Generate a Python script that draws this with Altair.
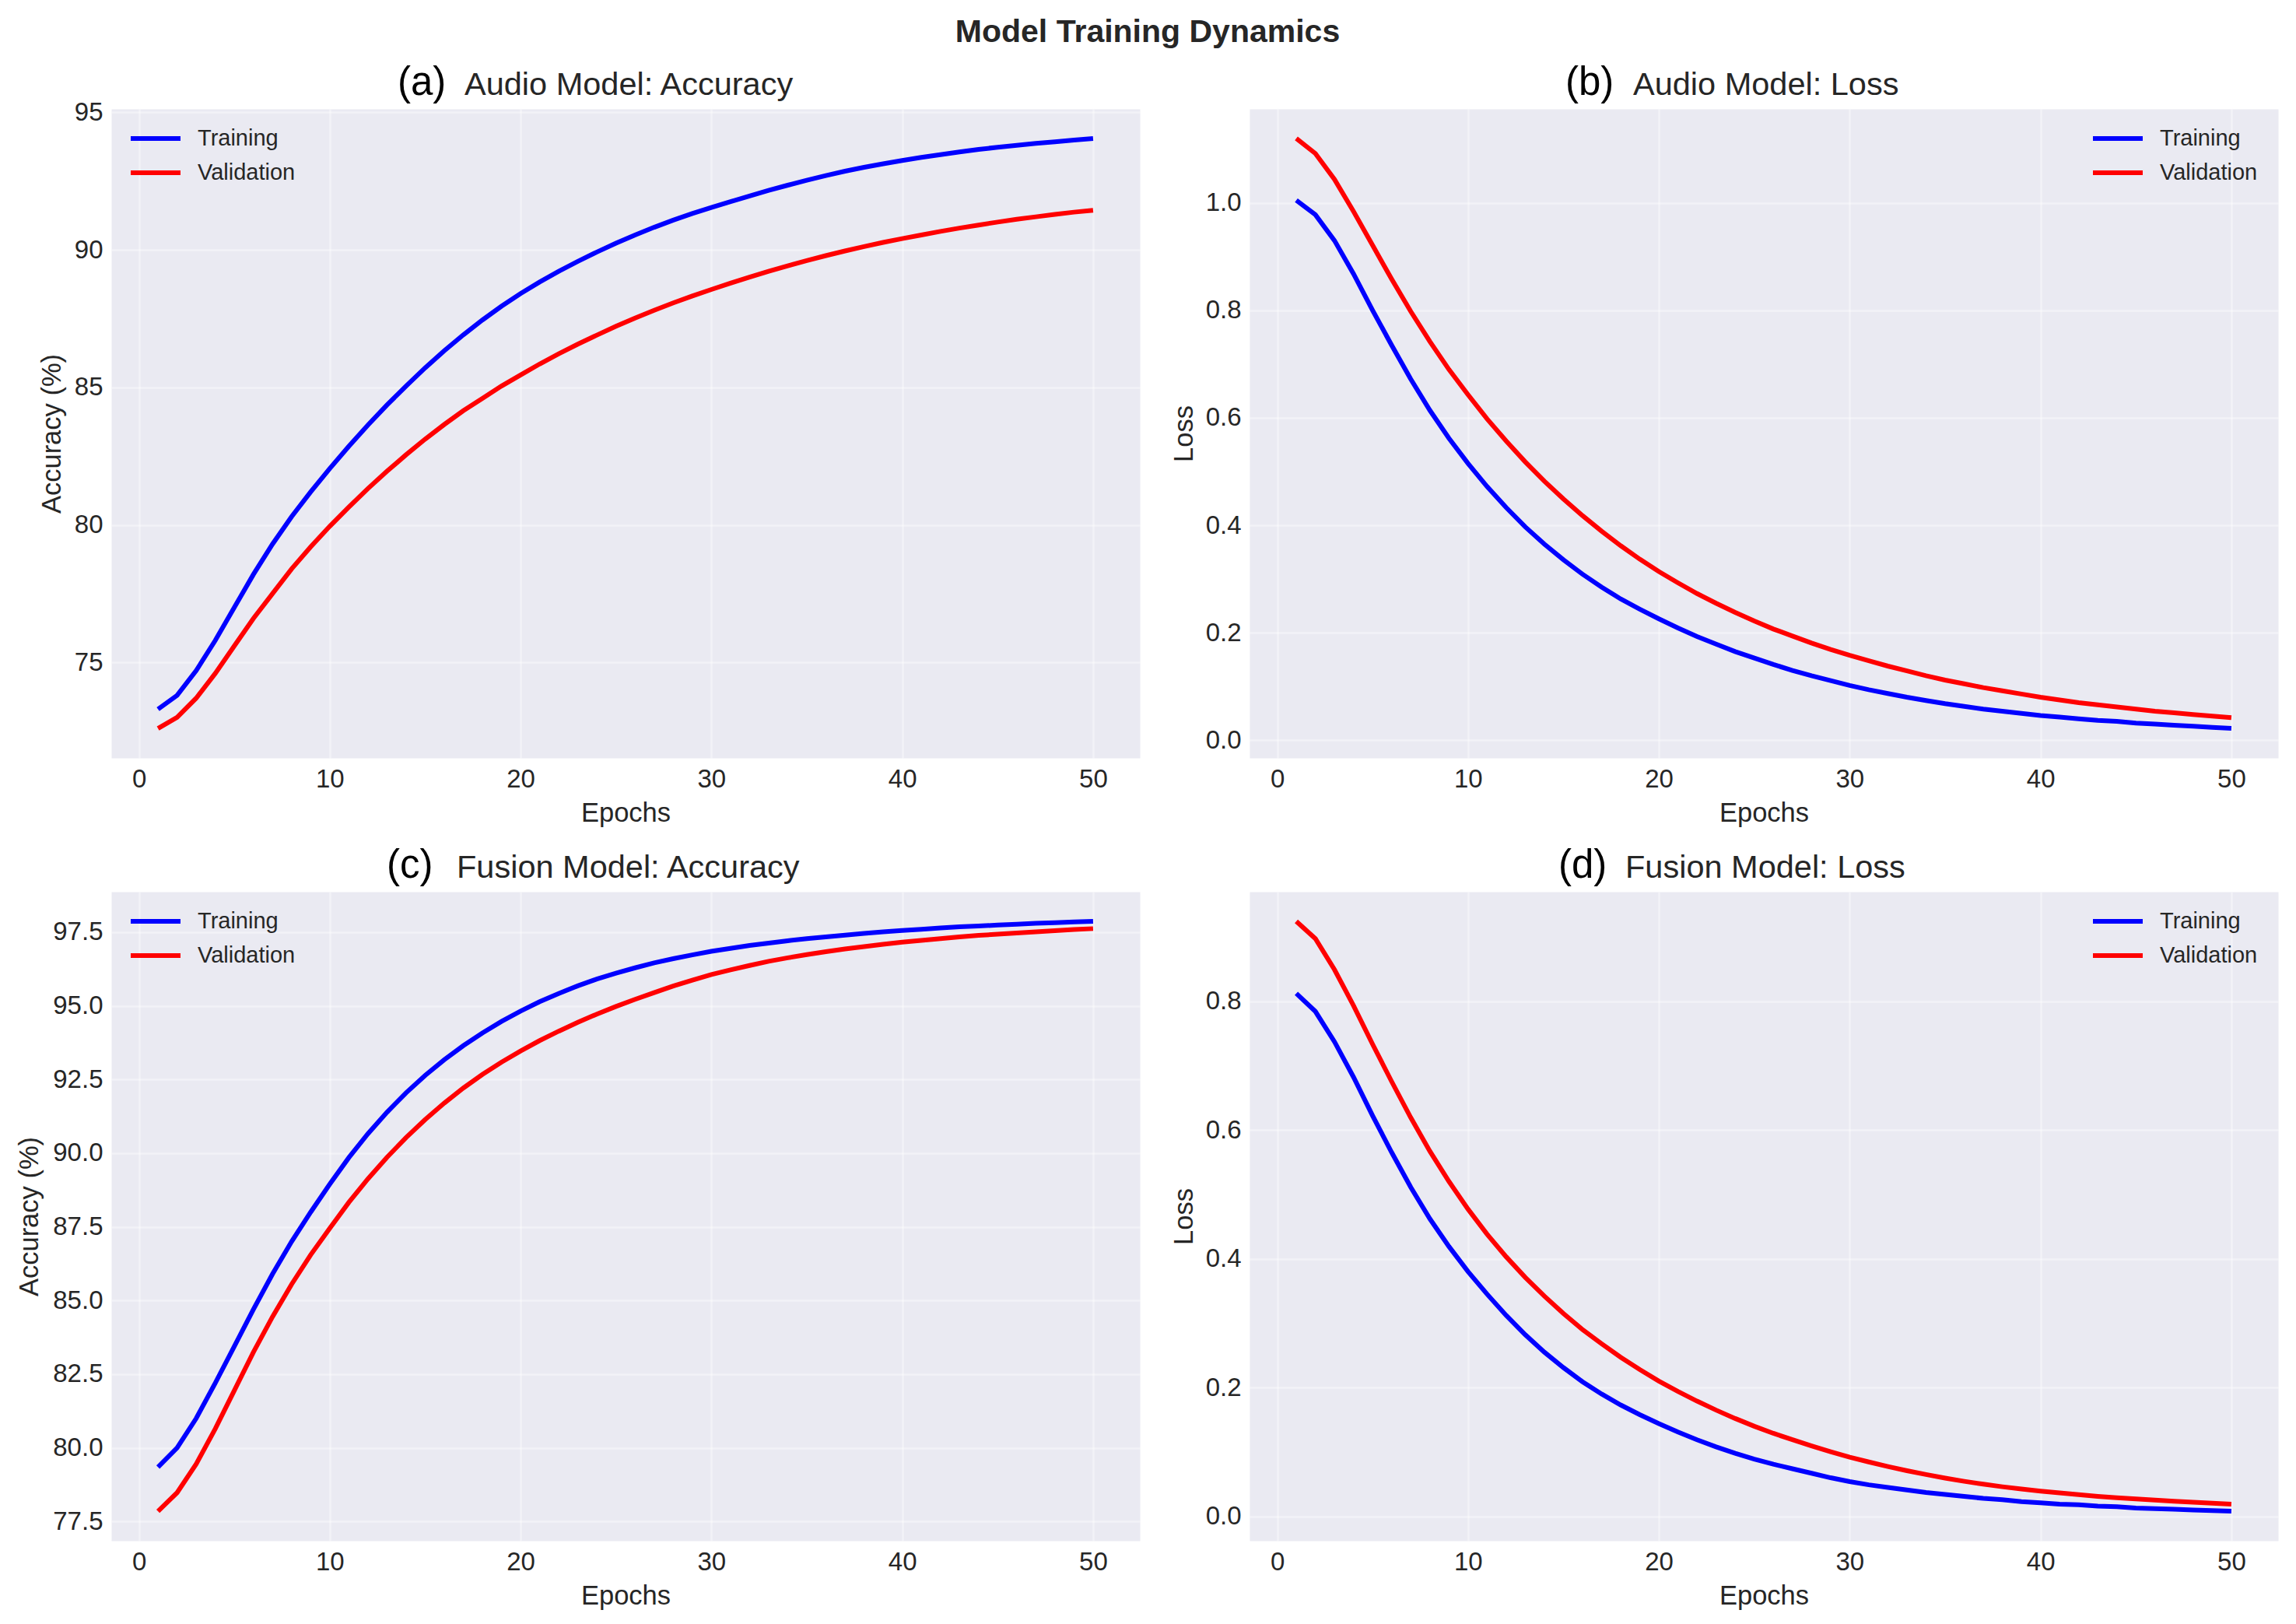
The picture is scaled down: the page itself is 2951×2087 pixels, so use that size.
import altair as alt
import pandas as pd

# ---------------- data ----------------
epochs = list(range(1, 51))
series_names = ["Training", "Validation"]
series_colors = ["#0000FF", "#FF0000"]

audio_acc_train = [73.3, 73.8, 74.7, 75.8, 77.0, 78.2, 79.3, 80.3, 81.2, 82.05,
                   82.86, 83.63, 84.36, 85.05, 85.71, 86.33, 86.91, 87.45, 87.95, 88.41,
                   88.83, 89.22, 89.58, 89.92, 90.24, 90.54, 90.82, 91.08, 91.32, 91.54,
                   91.75, 91.96, 92.16, 92.35, 92.53, 92.70, 92.86, 93.0, 93.13, 93.25,
                   93.36, 93.46, 93.56, 93.65, 93.73, 93.8, 93.87, 93.93, 93.99, 94.05]
audio_acc_val = [72.6, 73.0, 73.7, 74.6, 75.6, 76.6, 77.5, 78.4, 79.2, 79.95,
                 80.65, 81.32, 81.95, 82.55, 83.12, 83.65, 84.15, 84.6, 85.05, 85.45,
                 85.85, 86.22, 86.57, 86.9, 87.22, 87.52, 87.8, 88.07, 88.32, 88.56,
                 88.79, 89.01, 89.22, 89.42, 89.61, 89.79, 89.96, 90.12, 90.27, 90.41,
                 90.54, 90.67, 90.79, 90.9, 91.01, 91.11, 91.2, 91.29, 91.37, 91.44]

audio_loss_train = [1.005, 0.978, 0.93, 0.868, 0.80, 0.735, 0.672, 0.614, 0.562, 0.515,
                    0.472, 0.433, 0.397, 0.365, 0.336, 0.309, 0.285, 0.263, 0.244, 0.226,
                    0.209, 0.193, 0.179, 0.165, 0.153, 0.141, 0.130, 0.120, 0.111, 0.102,
                    0.094, 0.087, 0.080, 0.074, 0.068, 0.063, 0.058, 0.054, 0.050, 0.046,
                    0.043, 0.040, 0.037, 0.035, 0.032, 0.030, 0.028, 0.026, 0.024, 0.022]
audio_loss_val = [1.12, 1.092, 1.044, 0.984, 0.921, 0.858, 0.798, 0.742, 0.69, 0.643,
                  0.598, 0.557, 0.518, 0.482, 0.449, 0.418, 0.389, 0.362, 0.337, 0.314,
                  0.293, 0.273, 0.255, 0.238, 0.222, 0.207, 0.194, 0.181, 0.169, 0.158,
                  0.148, 0.138, 0.129, 0.120, 0.112, 0.105, 0.098, 0.092, 0.086, 0.080,
                  0.075, 0.070, 0.066, 0.062, 0.058, 0.054, 0.051, 0.048, 0.045, 0.042]

fusion_acc_train = [79.35, 80.0, 81.0, 82.2, 83.45, 84.7, 85.9, 87.0, 88.0, 88.95,
                    89.85, 90.66, 91.39, 92.05, 92.64, 93.17, 93.65, 94.08, 94.47, 94.82,
                    95.14, 95.42, 95.68, 95.91, 96.11, 96.29, 96.46, 96.6, 96.73, 96.85,
                    96.95, 97.05, 97.13, 97.21, 97.28, 97.34, 97.40, 97.46, 97.51, 97.56,
                    97.60, 97.64, 97.68, 97.71, 97.74, 97.77, 97.8, 97.82, 97.85, 97.87]
fusion_acc_val = [77.85, 78.48, 79.45, 80.65, 81.95, 83.25, 84.45, 85.55, 86.55, 87.45,
                  88.33, 89.13, 89.86, 90.53, 91.14, 91.70, 92.21, 92.67, 93.09, 93.47,
                  93.82, 94.14, 94.44, 94.72, 94.98, 95.22, 95.45, 95.67, 95.87, 96.06,
                  96.22, 96.37, 96.51, 96.63, 96.74, 96.84, 96.93, 97.01, 97.09, 97.16,
                  97.22, 97.28, 97.34, 97.39, 97.43, 97.47, 97.51, 97.55, 97.59, 97.62]

fusion_loss_train = [0.812, 0.784, 0.737, 0.682, 0.622, 0.565, 0.511, 0.462, 0.419, 0.380,
                     0.345, 0.312, 0.282, 0.255, 0.231, 0.209, 0.190, 0.173, 0.158, 0.144,
                     0.131, 0.119, 0.108, 0.098, 0.089, 0.081, 0.074, 0.067, 0.060, 0.054,
                     0.049, 0.045, 0.041, 0.037, 0.034, 0.031, 0.028, 0.026, 0.023, 0.021,
                     0.019, 0.018, 0.016, 0.015, 0.013, 0.012, 0.011, 0.010, 0.009, 0.008]
fusion_loss_val = [0.924, 0.897, 0.849, 0.793, 0.733, 0.675, 0.619, 0.567, 0.52, 0.477,
                   0.438, 0.403, 0.371, 0.342, 0.315, 0.290, 0.268, 0.247, 0.228, 0.210,
                   0.194, 0.179, 0.165, 0.152, 0.140, 0.129, 0.119, 0.1095, 0.1005, 0.092,
                   0.0845, 0.0775, 0.071, 0.065, 0.0595, 0.0545, 0.050, 0.046, 0.0425, 0.0393,
                   0.0364, 0.0337, 0.0312, 0.029, 0.027, 0.0252, 0.0235, 0.022, 0.0205, 0.019]

panel_labels = ["(a)", "(b)", "(c)", "(d)"]
panel_titles = ["Audio Model: Accuracy", "Audio Model: Loss",
                "Fusion Model: Accuracy", "Fusion Model: Loss"]
y_titles = ["Accuracy (%)", "Loss", "Accuracy (%)", "Loss"]
x_title = "Epochs"
x_ticks = [0, 10, 20, 30, 40, 50]
y_ticks = [[75, 80, 85, 90, 95],
           [0.0, 0.2, 0.4, 0.6, 0.8, 1.0],
           [77.5, 80.0, 82.5, 85.0, 87.5, 90.0, 92.5, 95.0, 97.5],
           [0.0, 0.2, 0.4, 0.6, 0.8]]
y_formats = ["d", ".1f", ".1f", ".1f"]
main_title = "Model Training Dynamics"

# ---------------- layout / style ----------------
W, H = 1322, 834
FONT = "Liberation Sans"
TXT = "#262626"

label_x = [368, 406, 354, 397]
text_x = [454, 493, 444, 483]
ytitle_x = [-66, -74, -95, -74]
legend_x = [38, 1097, 38, 1097]


def margin_domain(values):
    lo, hi = min(values), max(values)
    pad = 0.05 * (hi - lo)
    return [lo - pad, hi + pad]


def panel(i, train, val):
    df = pd.DataFrame({
        "Epoch": epochs + epochs,
        "Value": train + val,
        "Series": [series_names[0]] * len(epochs) + [series_names[1]] * len(epochs),
    })
    lines = alt.Chart(df).mark_line(strokeWidth=6).encode(
        x=alt.X("Epoch:Q",
                scale=alt.Scale(domain=margin_domain(epochs), nice=False, zero=False),
                axis=alt.Axis(values=x_ticks, title=x_title, titleY=81,
                              titleBaseline="alphabetic")),
        y=alt.Y("Value:Q",
                scale=alt.Scale(domain=margin_domain(train + val), nice=False, zero=False),
                axis=alt.Axis(values=y_ticks[i], format=y_formats[i], title=y_titles[i],
                              titleX=ytitle_x[i], titleY=H / 2, titleAngle=270,
                              titleAlign="center", titleBaseline="alphabetic")),
        color=alt.Color("Series:N",
                        scale=alt.Scale(domain=series_names, range=series_colors),
                        legend=alt.Legend(orient="none", legendX=legend_x[i], legendY=19,
                                          title=None, symbolType="M-2,0H2", symbolSize=1024,
                                          symbolStrokeWidth=6, labelFont=FONT,
                                          labelFontSize=29, labelColor=TXT, labelOffset=35,
                                          labelLimit=400, rowPadding=10, padding=0)),
    )
    lab = alt.Chart(pd.DataFrame({"t": [panel_labels[i]]})).mark_text(
        align="left", baseline="alphabetic", font=FONT, fontSize=51, color="#000000"
    ).encode(text="t:N", x=alt.value(label_x[i]), y=alt.value(-18))
    ttl = alt.Chart(pd.DataFrame({"t": [panel_titles[i]]})).mark_text(
        align="left", baseline="alphabetic", font=FONT, fontSize=41.5, color=TXT
    ).encode(text="t:N", x=alt.value(text_x[i]), y=alt.value(-18))
    layers = [lines, lab, ttl]
    if i == 0:
        sup = alt.Chart(pd.DataFrame({"t": [main_title]})).mark_text(
            align="center", baseline="alphabetic", font=FONT, fontSize=41,
            fontWeight="bold", color=TXT
        ).encode(text="t:N", x=alt.value(1332), y=alt.value(-86))
        layers.append(sup)
    return alt.layer(*layers).properties(width=W, height=H)


panels = [
    panel(0, audio_acc_train, audio_acc_val),
    panel(1, audio_loss_train, audio_loss_val),
    panel(2, fusion_acc_train, fusion_acc_val),
    panel(3, fusion_loss_train, fusion_loss_val),
]

chart = alt.concat(*panels, columns=2, spacing={"row": 172, "column": 141},
                   bounds="flush").properties(
    padding={"left": 11, "top": 12, "right": 5, "bottom": 5},
    background="#FFFFFF",
).configure_view(
    fill="#EAEAF2", stroke="transparent"
).configure_axis(
    grid=True, gridColor="#FFFFFF", gridOpacity=0.4, gridWidth=2.5,
    domain=False, ticks=False, tickSize=0, labelPadding=11,
    labelFont=FONT, labelFontSize=33, labelColor=TXT,
    titleFont=FONT, titleFontSize=34.5, titleColor=TXT, titleFontWeight="normal",
).resolve_scale(color="independent")

chart.save("out.html", embed_options={"renderer": "svg", "actions": False})
